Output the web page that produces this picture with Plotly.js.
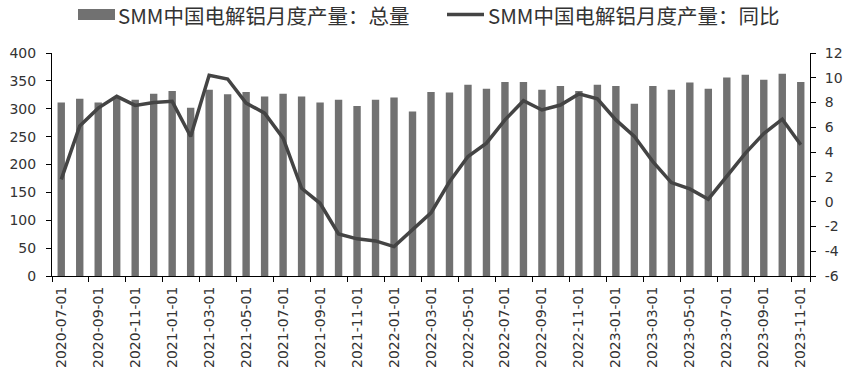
<!DOCTYPE html>
<html><head><meta charset="utf-8">
<script src="https://cdn.plot.ly/plotly-3.0.1.min.js"></script>
<style>html,body{margin:0;padding:0;background:#fff}#c{width:852px;height:385px}</style>
</head><body><div id="c"></div>
<script>
const months = ["2020-07-01","2020-08-01","2020-09-01","2020-10-01","2020-11-01","2020-12-01",
"2021-01-01","2021-02-01","2021-03-01","2021-04-01","2021-05-01","2021-06-01","2021-07-01","2021-08-01","2021-09-01","2021-10-01","2021-11-01","2021-12-01",
"2022-01-01","2022-02-01","2022-03-01","2022-04-01","2022-05-01","2022-06-01","2022-07-01","2022-08-01","2022-09-01","2022-10-01","2022-11-01","2022-12-01",
"2023-01-01","2023-02-01","2023-03-01","2023-04-01","2023-05-01","2023-06-01","2023-07-01","2023-08-01","2023-09-01","2023-10-01","2023-11-01"];
const totalOutput = [311,318,311,320,316,327,332,302,334,326,330,322,327,322,311,316,305,316,
320,295,330,329,343,336,348,348,334,341,332,343,341,309,341,334,347,336,356,361,352,363,348];
const yoyGrowth = [1.8,6.1,7.55,8.5,7.77,8.0,8.1,5.26,10.2,9.9,7.96,7.15,5.13,1.08,-0.13,-2.6,-3.0,-3.17,
-3.63,-2.3,-0.9,1.6,3.64,4.72,6.6,8.15,7.4,7.8,8.7,8.3,6.6,5.26,3.24,1.54,1.03,0.2,2.03,3.9,5.5,6.66,4.6];
const tickLabels = months.filter((m,i)=>i%2===0);
const leftTicks = [0,50,100,150,200,250,300,350,400];
const rightTicks = [-6,-4,-2,0,2,4,6,8,10,12];
const rightTickText = ["-6","-4","-2","0","2","4","6","8","10","12"];
const nameTotal = "SMM中国电解铝月度产量：总量";
const nameYoy = "SMM中国电解铝月度产量：同比";

const W = 852, H = 385, L = 52, R = 42, T = 53, B = 109;
const pw = W - L - R, ph = H - T - B;
const px = x => (x - L) / pw;
const py = y => (H - B - y) / ph;

const tickFont = {family:"'DejaVu Sans', sans-serif", size:14, color:'#333'};
const legFont = {family:"'Noto Sans CJK SC', 'Noto Sans', sans-serif", size:20.5, color:'#333'};
const barColor = '#717171', lineColor = '#444444';

const data = [
  {type:'bar', x:months, y:totalOutput, name:nameTotal, marker:{color:barColor}, width:0.4, yaxis:'y', showlegend:false},
  {type:'scatter', mode:'lines', x:months, y:yoyGrowth, name:nameYoy, line:{color:lineColor, width:3.5}, yaxis:'y2', showlegend:false}
];
const layout = {
  width:W, height:H,
  margin:{l:L, r:R, t:T, b:B, autoexpand:false},
  paper_bgcolor:'#fff', plot_bgcolor:'#fff',
  font:{family:"'DejaVu Sans', sans-serif", color:'#333', size:14},
  showlegend:false,
  xaxis:{type:'category', tickmode:'array', tickvals:tickLabels, ticktext:tickLabels, tickangle:-90,
    tickson:'boundaries', ticks:'outside', ticklen:5, tickcolor:'#000', showline:true, linecolor:'#000', linewidth:1,
    showgrid:false, zeroline:false, tickfont:tickFont, range:[-0.5,40.5], ticklabelstandoff:4},
  yaxis:{range:[0,400], tickmode:'array', tickvals:leftTicks, ticks:'outside', ticklen:5, tickcolor:'#000', showline:true, linecolor:'#000',
    showgrid:false, zeroline:false, tickfont:tickFont, ticklabelstandoff:7},
  yaxis2:{range:[-6,12], tickmode:'array', tickvals:rightTicks, ticktext:rightTickText, overlaying:'y', side:'right', ticks:'outside', ticklen:5, tickcolor:'#000',
    showline:true, linecolor:'#000', showgrid:false, zeroline:false, tickfont:tickFont, ticklabelstandoff:6},
  shapes:[
    {type:'rect', xref:'paper', yref:'paper', x0:px(78), x1:px(115), y0:py(20), y1:py(9), fillcolor:barColor, line:{width:0}},
    {type:'line', xref:'paper', yref:'paper', x0:px(447), x1:px(484), y0:py(14.5), y1:py(14.5), line:{color:lineColor, width:3.5}}
  ],
  annotations:[
    {xref:'paper', yref:'paper', x:px(116), y:py(14.5), xanchor:'left', yanchor:'middle', text:nameTotal, showarrow:false, font:legFont},
    {xref:'paper', yref:'paper', x:px(486), y:py(14.5), xanchor:'left', yanchor:'middle', text:nameYoy, showarrow:false, font:legFont}
  ]
};
Plotly.newPlot('c', data, layout, {displayModeBar:false, staticPlot:true});
</script></body></html>
